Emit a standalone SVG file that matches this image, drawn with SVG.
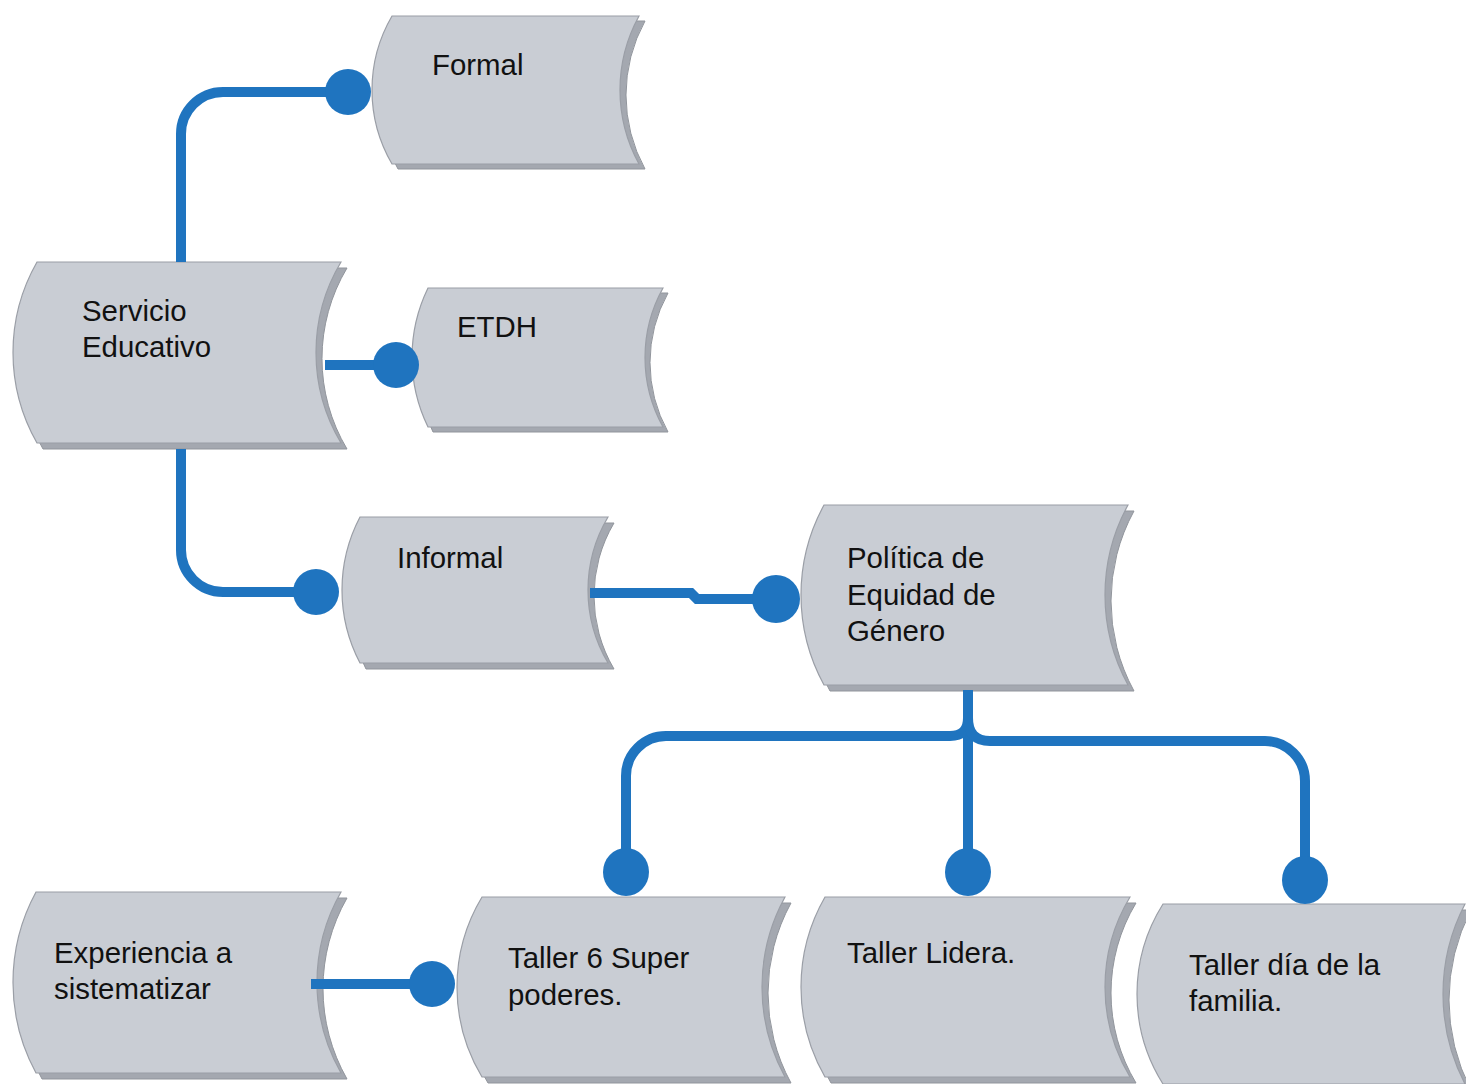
<svg xmlns="http://www.w3.org/2000/svg" width="1466" height="1084" viewBox="0 0 1466 1084">
<style>
.box{fill:#c9cdd4;stroke:#9a9ea6;stroke-width:1.2}
.shadow{fill:#a4a8b0;stroke:#91959c;stroke-width:1}
.lbl{font-family:"Liberation Sans",Arial,sans-serif;font-size:29.4px;fill:#111}
.wire{fill:none;stroke:#1f74bf;stroke-width:10}
.dot{fill:#1f74bf}
</style>
<rect width="1466" height="1084" fill="#ffffff"/>
<g id="n-formal">
<path class="shadow" transform="translate(6,5)" d="M392,16 H639 A153.6,153.6 0 0 0 639,164 H392 A146.9,146.9 0 0 1 392,16 Z"/>
<path class="box" d="M392,16 H639 A153.6,153.6 0 0 0 639,164 H392 A146.9,146.9 0 0 1 392,16 Z"/>
<text class="lbl" x="432" y="75">Formal</text>
</g>
<g id="n-servicio">
<path class="shadow" transform="translate(6,6)" d="M37,262 H341 A176.3,176.3 0 0 0 341,443 H37 A182.6,182.6 0 0 1 37,262 Z"/>
<path class="box" d="M37,262 H341 A176.3,176.3 0 0 0 341,443 H37 A182.6,182.6 0 0 1 37,262 Z"/>
<text class="lbl" x="82" y="321">Servicio</text>
<text class="lbl" x="82" y="357">Educativo</text>
</g>
<g id="n-etdh">
<path class="shadow" transform="translate(5,5)" d="M428,288 H663 A143.2,143.2 0 0 0 663,427 H428 A158.9,158.9 0 0 1 428,288 Z"/>
<path class="box" d="M428,288 H663 A143.2,143.2 0 0 0 663,427 H428 A158.9,158.9 0 0 1 428,288 Z"/>
<text class="lbl" x="457" y="337">ETDH</text>
</g>
<g id="n-informal">
<path class="shadow" transform="translate(6,6)" d="M360,517 H608 A143.2,143.2 0 0 0 608,663 H360 A157,157 0 0 1 360,517 Z"/>
<path class="box" d="M360,517 H608 A143.2,143.2 0 0 0 608,663 H360 A157,157 0 0 1 360,517 Z"/>
<text class="lbl" x="397" y="568">Informal</text>
</g>
<g id="n-politica">
<path class="shadow" transform="translate(6,6)" d="M824,505 H1128 A187.6,187.6 0 0 0 1128,685 H824 A187.6,187.6 0 0 1 824,505 Z"/>
<path class="box" d="M824,505 H1128 A187.6,187.6 0 0 0 1128,685 H824 A187.6,187.6 0 0 1 824,505 Z"/>
<text class="lbl" x="847" y="568">Política de</text>
<text class="lbl" x="847" y="605">Equidad de</text>
<text class="lbl" x="847" y="641">Género</text>
</g>
<g id="n-experiencia">
<path class="shadow" transform="translate(6,6)" d="M36,892 H341 A182.6,182.6 0 0 0 341,1073 H36 A189.5,189.5 0 0 1 36,892 Z"/>
<path class="box" d="M36,892 H341 A182.6,182.6 0 0 0 341,1073 H36 A189.5,189.5 0 0 1 36,892 Z"/>
<text class="lbl" x="54" y="963">Experiencia a</text>
<text class="lbl" x="54" y="999">sistematizar</text>
</g>
<g id="n-taller6">
<path class="shadow" transform="translate(6,6)" d="M482,897 H785 A187.6,187.6 0 0 0 785,1077 H482 A174.5,174.5 0 0 1 482,897 Z"/>
<path class="box" d="M482,897 H785 A187.6,187.6 0 0 0 785,1077 H482 A174.5,174.5 0 0 1 482,897 Z"/>
<text class="lbl" x="508" y="968">Taller 6 Super</text>
<text class="lbl" x="508" y="1005">poderes.</text>
</g>
<g id="n-lidera">
<path class="shadow" transform="translate(6,6)" d="M825,897 H1130 A174.5,174.5 0 0 0 1130,1077 H825 A180.75,180.75 0 0 1 825,897 Z"/>
<path class="box" d="M825,897 H1130 A174.5,174.5 0 0 0 1130,1077 H825 A180.75,180.75 0 0 1 825,897 Z"/>
<text class="lbl" x="847" y="963">Taller Lidera.</text>
</g>
<g id="n-familia">
<path class="shadow" transform="translate(6,6)" d="M1163,904 H1465 A195.1,195.1 0 0 0 1465,1084 H1163 A168.8,168.8 0 0 1 1163,904 Z"/>
<path class="box" d="M1163,904 H1465 A195.1,195.1 0 0 0 1465,1084 H1163 A168.8,168.8 0 0 1 1163,904 Z"/>
<text class="lbl" x="1189" y="975">Taller día de la</text>
<text class="lbl" x="1189" y="1011">familia.</text>
</g>
<g id="connectors">
<path class="wire" d="M181,262 V134 A42,42 0 0 1 223,92 H348"/>
<circle class="dot" cx="348" cy="92" r="23"/>
<path class="wire" d="M325,365 H396"/>
<circle class="dot" cx="396" cy="365" r="23"/>
<path class="wire" d="M181,449 V550 A42,42 0 0 0 223,592 H316"/>
<circle class="dot" cx="316" cy="592" r="23"/>
<path class="wire" d="M590,593 H691 L697,599 H776"/>
<circle class="dot" cx="776" cy="599" r="24"/>
<path class="wire" d="M311,984 H432"/>
<circle class="dot" cx="432" cy="984" r="23"/>
<path class="wire" d="M968,690 V872"/>
<path class="wire" d="M968,700 V718 Q968,736 950,736 H666 A40,40 0 0 0 626,776 V872"/>
<path class="wire" d="M968,718 Q968,741 990,741 H1265 A40,40 0 0 1 1305,781 V880"/>
<ellipse class="dot" cx="626" cy="872" rx="23" ry="24"/>
<ellipse class="dot" cx="968" cy="872" rx="23" ry="24"/>
<ellipse class="dot" cx="1305" cy="880" rx="23" ry="24"/>
</g>
</svg>
